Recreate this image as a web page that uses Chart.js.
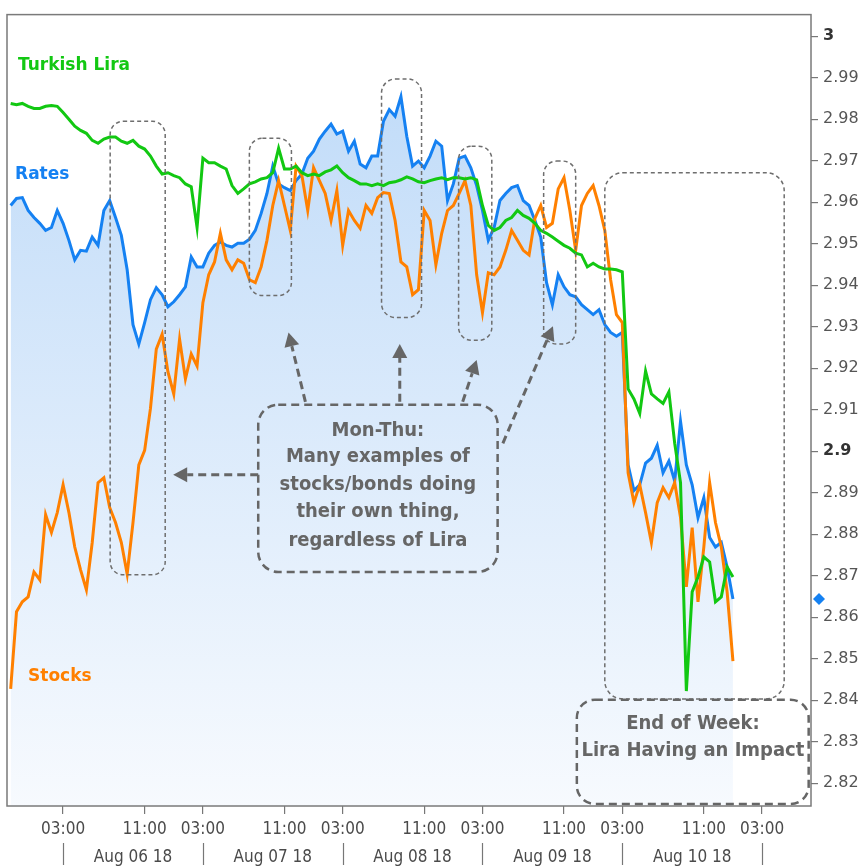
<!DOCTYPE html>
<html><head><meta charset="utf-8">
<script src="https://cdn.jsdelivr.net/npm/chart.js@4/dist/chart.umd.min.js"></script>
<style>html,body{margin:0;padding:0;background:#fff;}canvas{display:block;}</style>
</head><body>
<canvas id="c" width="864" height="867"></canvas>
<script>
// Session position of first sample (03:00 Aug 06 = 0, one day = 24 units)
const START_POS = -9;

const lira = [
 2.9838,2.9835,2.9838,2.9831,2.9826,2.9826,2.9831,2.9833,2.9831,
 2.9816,2.9800,2.9783,2.9773,2.9766,2.9749,2.9742,2.9752,2.9757,2.9757,
 2.9747,2.9742,2.9749,2.9735,2.9728,2.9711,2.9687,2.9668,2.9671,2.9664,
 2.9659,2.9644,2.9637,2.9539,2.9706,2.9695,2.9695,2.9687,2.9680,2.9640,
 2.9621,2.9632,2.9644,2.9649,2.9656,2.9659,2.9671,2.9730,2.9680,2.9680,
 2.9687,2.9671,2.9664,2.9668,2.9664,2.9673,2.9678,2.9687,2.9671,2.9659,
 2.9652,2.9644,2.9644,2.9640,2.9644,2.9640,2.9647,2.9649,2.9654,2.9661,
 2.9656,2.9649,2.9647,2.9652,2.9656,2.9659,2.9654,2.9659,2.9659,2.9656,
 2.9659,2.9654,2.9592,2.9544,2.9532,2.9539,2.9556,2.9563,2.9580,2.9568,
 2.9561,2.9549,2.9532,2.9525,2.9516,2.9506,2.9496,2.9489,2.9477,2.9473,
 2.9444,2.9453,2.9444,2.9439,2.9439,2.9437,2.9432,2.9150,2.9126,2.9091,
 2.9193,2.9138,2.9126,2.9115,2.9143,2.9019,2.8924,2.8422,2.8661,2.8697,
 2.8745,2.8733,2.8637,2.8649,2.8721,2.8697
];
const rates = [
 2.9592,2.9609,2.9611,2.9580,2.9563,2.9549,2.9532,2.9539,2.9580,
 2.9549,2.9508,2.9461,2.9484,2.9482,2.9516,2.9496,2.9580,2.9604,2.9563,
 2.9520,2.9437,2.9305,2.9258,2.9310,2.9365,2.9394,2.9377,2.9348,2.9360,
 2.9377,2.9396,2.9468,2.9444,2.9444,2.9477,2.9496,2.9504,2.9496,2.9492,
 2.9501,2.9501,2.9511,2.9532,2.9573,2.9621,2.9687,2.9644,2.9635,2.9628,
 2.9652,2.9668,2.9706,2.9723,2.9752,2.9771,2.9788,2.9764,2.9771,2.9723,
 2.9747,2.9692,2.9683,2.9711,2.9711,2.9795,2.9823,2.9807,2.9854,2.9759,
 2.9687,2.9699,2.9683,2.9711,2.9747,2.9735,2.9604,2.9644,2.9706,2.9711,
 2.9683,2.9640,2.9580,2.9508,2.9539,2.9604,2.9621,2.9635,2.9640,2.9604,
 2.9592,2.9556,2.9516,2.9406,2.9353,2.9425,2.9396,2.9377,2.9372,2.9353,
 2.9341,2.9329,2.9341,2.9305,2.9286,2.9277,2.9286,2.8967,2.8905,2.8919,
 2.8971,2.8983,2.9014,2.8948,2.8976,2.8928,2.9072,2.8967,2.8919,2.8840,
 2.8888,2.8792,2.8769,2.8780,2.8721,2.8644
];
const stocks = [
 2.8427,2.8613,2.8637,2.8649,2.8709,2.8690,2.8847,2.8804,2.8852,
 2.8919,2.8852,2.8769,2.8714,2.8666,2.8780,2.8924,2.8936,2.8864,2.8828,
 2.8780,2.8704,2.8828,2.8967,2.9002,2.9103,2.9246,2.9282,2.9191,2.9138,
 2.9270,2.9174,2.9234,2.9205,2.9358,2.9425,2.9456,2.9525,2.9461,2.9437,
 2.9461,2.9453,2.9413,2.9406,2.9444,2.9508,2.9592,2.9652,2.9592,2.9532,
 2.9687,2.9664,2.9580,2.9683,2.9652,2.9621,2.9556,2.9628,2.9496,2.9580,
 2.9556,2.9537,2.9592,2.9573,2.9611,2.9623,2.9621,2.9556,2.9456,2.9444,
 2.9377,2.9389,2.9580,2.9556,2.9449,2.9525,2.9580,2.9592,2.9621,2.9652,
 2.9592,2.9425,2.9334,2.9430,2.9425,2.9444,2.9484,2.9532,2.9508,2.9484,
 2.9473,2.9561,2.9592,2.9539,2.9549,2.9632,2.9659,2.9580,2.9484,2.9592,
 2.9621,2.9640,2.9592,2.9532,2.9413,2.9329,2.9310,2.8948,2.8876,2.8919,
 2.8852,2.8780,2.8876,2.8912,2.8888,2.8924,2.8840,2.8673,2.8816,2.8637,
 2.8769,2.8924,2.8828,2.8769,2.8661,2.8494
];

const seriesNames = ['Turkish Lira','Rates','Stocks'];
const timeTickPos = [0,14,24,38,48,62,72,86,96,110,120];
const timeTickLabels = ['03:00','11:00','03:00','11:00','03:00','11:00','03:00','11:00','03:00','11:00','03:00'];
const dayBounds = [0,24,48,72,96,120];
const dayMid = [12,36,60,84,108];
const dayLabels = ['Aug 06 18','Aug 07 18','Aug 08 18','Aug 09 18','Aug 10 18'];
const yTicks = [2.82,2.83,2.84,2.85,2.86,2.87,2.88,2.89,2.9,2.91,2.92,2.93,2.94,2.95,2.96,2.97,2.98,2.99,3];
const boldTicks = [2.9,3];

const COLORS = {lira:'#12c812', rates:'#1581f2', stocks:'#ff8000'};
const X_MIN = -9.63, X_MAX = 128.4, Y_MIN = 2.8145, Y_MAX = 3.0052;
const NARROW = '"Liberation Sans Narrow", "DejaVu Sans Condensed", "Arial Narrow", Lato, sans-serif';

// annotation layout (data coordinates)
const regionBoxes = [[8.08,17.53,2.8702,2.9795,13],[31.98,39.2,2.9375,2.9754,13],[54.67,61.54,2.9322,2.9897,14],[67.9,73.6,2.9267,2.9735,13],[82.5,88.0,2.9258,2.9699,13],[93.0,123.8,2.8403,2.9671,18]];
const noteBoxes = [
  {box:[33.5,74.6,2.8709,2.9112], r:20, cx:54.05, lines:['Mon-Thu:','Many examples of','stocks/bonds doing','their own thing,','regardless of Lira'], ys:[2.90501,2.89857,2.89189,2.88544,2.87852]},
  {box:[88.2,128.0,2.8150,2.8401], r:18, cx:108.13, lines:['End of Week:','Lira Having an Impact'], ys:[2.83437,2.82792]}
];
const arrows = [[33.5,2.8943,18.9,2.8943],[41.6,2.9119,38.7,2.9286],[57.8,2.9119,57.8,2.9258],[68.6,2.9119,71.0,2.9220],[75.5,2.9019,84.1,2.9301]];
const seriesLabels = [[seriesNames[0],-7.74,2.99284,COLORS.lira],[seriesNames[1],-8.25,2.96659,COLORS.rates],[seriesNames[2],-6.02,2.84558,COLORS.stocks]];

const toPts = arr => arr.map((v,i)=>({x: START_POS + i, y: v}));

const annot = {
  id:'annot',
  afterDatasetsDraw(chart){
    const {ctx, scales:{x,y}} = chart;
    const X = v=>x.getPixelForValue(v), Y = v=>y.getPixelForValue(v);
    ctx.save();
    ctx.strokeStyle='#6e6e6e'; ctx.lineWidth=1.5; ctx.setLineDash([4,3]);
    regionBoxes.forEach(r=>{
      ctx.beginPath();
      ctx.roundRect(X(r[0]), Y(r[3]), X(r[1])-X(r[0]), Y(r[2])-Y(r[3]), r[4]);
      ctx.stroke();
    });
    ctx.strokeStyle='#666'; ctx.lineWidth=2.5; ctx.setLineDash([8,5]);
    noteBoxes.forEach(n=>{
      const b=n.box;
      ctx.beginPath();
      ctx.roundRect(X(b[0]), Y(b[3]), X(b[1])-X(b[0]), Y(b[2])-Y(b[3]), n.r);
      ctx.stroke();
    });
    arrows.forEach(a=>{
      const x0=X(a[0]),y0=Y(a[1]),x1=X(a[2]),y1=Y(a[3]);
      const ang=Math.atan2(y1-y0,x1-x0), L=14, W=7.5;
      const bx=x1-Math.cos(ang)*L, by=y1-Math.sin(ang)*L;
      ctx.setLineDash([8,5]); ctx.lineWidth=3; ctx.strokeStyle='#666';
      ctx.beginPath(); ctx.moveTo(x0,y0); ctx.lineTo(bx,by); ctx.stroke();
      ctx.setLineDash([]); ctx.fillStyle='#666';
      ctx.beginPath(); ctx.moveTo(x1,y1);
      ctx.lineTo(bx+Math.sin(ang)*W, by-Math.cos(ang)*W);
      ctx.lineTo(bx-Math.sin(ang)*W, by+Math.cos(ang)*W);
      ctx.closePath(); ctx.fill();
    });
    ctx.setLineDash([]);
    ctx.fillStyle='#666'; ctx.font='bold 20px "DejaVu Sans Condensed", "DejaVu Sans"';
    ctx.textAlign='center'; ctx.textBaseline='middle';
    noteBoxes.forEach(n=>{ n.lines.forEach((t,i)=>ctx.fillText(t, X(n.cx), Y(n.ys[i]))); });
    ctx.font='bold 17px "DejaVu Sans"'; ctx.textAlign='left';
    seriesLabels.forEach(s=>{ ctx.fillStyle=s[3]; ctx.fillText(s[0], X(s[1]), Y(s[2])); });
    ctx.restore();
  },
  afterDraw(chart){
    const {ctx, chartArea:a, scales:{x,y,x2}} = chart;
    ctx.save();
    ctx.strokeStyle='#7a7a7a'; ctx.lineWidth=1.5;
    ctx.strokeRect(a.left, a.top, a.right-a.left, a.bottom-a.top);
    ctx.lineWidth=1.2; ctx.strokeStyle='#777';
    dayBounds.forEach(v=>{
      const px=Math.round(x.getPixelForValue(v))+0.5;
      ctx.beginPath(); ctx.moveTo(px, x2.top+7); ctx.lineTo(px, x2.bottom-2); ctx.stroke();
    });
    const yy=y.getPixelForValue(rates[rates.length-1]), xx=a.right+8;
    ctx.fillStyle=COLORS.rates;
    ctx.beginPath(); ctx.moveTo(xx,yy-6); ctx.lineTo(xx+6,yy); ctx.lineTo(xx,yy+6); ctx.lineTo(xx-6,yy); ctx.closePath(); ctx.fill();
    ctx.restore();
  }
};

const fillGrad = c => {
  const ch=c.chart, a=ch.chartArea;
  if(!a) return 'rgba(200,225,250,0.6)';
  const g=ch.ctx.createLinearGradient(0,a.top,0,a.bottom);
  g.addColorStop(0,'rgb(188,217,248)');
  g.addColorStop(1,'rgb(247,250,254)');
  return g;
};

new Chart(document.getElementById('c'), {
  type:'line',
  data:{datasets:[
    {label:seriesNames[0], data:toPts(lira), borderColor:COLORS.lira, borderWidth:3, fill:false},
    {label:seriesNames[2], data:toPts(stocks), borderColor:COLORS.stocks, borderWidth:3, fill:false},
    {label:seriesNames[1], data:toPts(rates), borderColor:COLORS.rates, borderWidth:3, fill:'start', backgroundColor:fillGrad}
  ]},
  options:{
    responsive:false, animation:false, devicePixelRatio:1,
    layout:{padding:{left:7,top:7,right:0,bottom:0}},
    elements:{point:{radius:0}, line:{tension:0}},
    plugins:{legend:{display:false}, tooltip:{enabled:false}},
    scales:{
      x:{type:'linear', position:'bottom', min:X_MIN, max:X_MAX, weight:0,
        afterBuildTicks:s=>{ s.ticks = timeTickPos.map(v=>({value:v})); },
        afterFit:s=>{ s.height=30; },
        grid:{display:true, drawOnChartArea:false, drawTicks:true, tickLength:8, color:'#777', lineWidth:1.2},
        border:{display:false},
        ticks:{autoSkip:false, maxRotation:0, padding:5, color:'#4a4a4a',
          font:{family:NARROW, size:17},
          callback:v=>{ const i=timeTickPos.indexOf(v); return i>=0?timeTickLabels[i]:''; }}
      },
      x2:{type:'linear', position:'bottom', min:X_MIN, max:X_MAX, weight:1,
        afterBuildTicks:s=>{ s.ticks = dayMid.map(v=>({value:v})); },
        afterFit:s=>{ s.height=31; },
        grid:{display:false, drawTicks:false},
        border:{display:false},
        ticks:{autoSkip:false, maxRotation:0, padding:11, color:'#4a4a4a',
          font:{family:NARROW, size:17},
          callback:v=>{ const i=dayMid.indexOf(v); return i>=0?dayLabels[i]:''; }}
      },
      y:{type:'linear', position:'right', min:Y_MIN, max:Y_MAX,
        afterBuildTicks:s=>{ s.ticks = yTicks.map(v=>({value:v})); },
        afterFit:s=>{ s.width=53; },
        grid:{display:true, drawOnChartArea:false, drawTicks:true, tickLength:7, color:'#777', lineWidth:1.2},
        border:{display:false},
        ticks:{padding:5,
          color:c=> boldTicks.some(b=>Math.abs(b-c.tick.value)<1e-6)?'#333':'#555',
          font:c=>({family:'"DejaVu Sans"', size:16, weight: boldTicks.some(b=>Math.abs(b-(c.tick?c.tick.value:0))<1e-6)?'bold':'normal'}),
          callback:v=>String(+(+v).toFixed(2))}
      }
    }
  },
  plugins:[annot]
});
</script>
</body></html>
